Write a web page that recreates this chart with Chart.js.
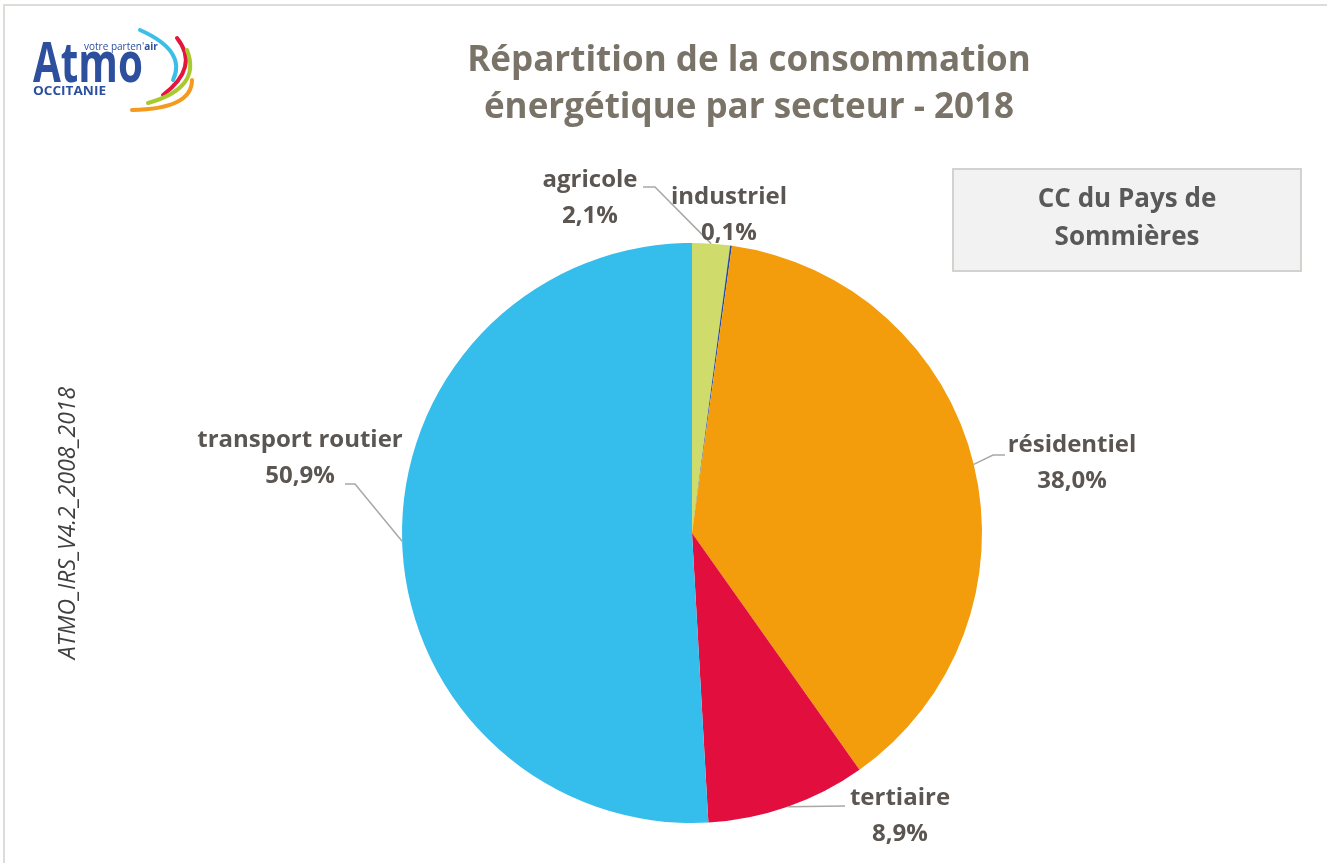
<!DOCTYPE html>
<html>
<head>
<meta charset="utf-8">
<script src="https://cdn.jsdelivr.net/npm/chart.js@4.4.1/dist/chart.umd.min.js"></script>
<style>
  html, body { margin: 0; padding: 0; background: #fff; }
  #wrap { position: relative; width: 1327px; height: 863px; }
</style>
</head>
<body>
<div id="wrap"><canvas id="repartition"></canvas></div>
<script>
// donnees
const secteurs = ["agricole", "industriel", "résidentiel", "tertiaire", "transport routier"];
const parts = [2.1, 0.1, 38.0, 8.9, 50.9];
const couleurs = ["#cfdc6c", "#2b4a9c", "#f39c0c", "#e10e3e", "#35bdeb"];
const titre = ["Répartition de la consommation", "énergétique par secteur - 2018"];
const territoire = ["CC du Pays de", "Sommières"];
const source = "ATMO_IRS_V4.2_2008_2018";

const FONT = "'Open Sans', 'Noto Sans', sans-serif";
const labelColor = "#5b5651";
const leaderColor = "#a9a8a4";

// position des etiquettes (centre du texte) + coude de la ligne de rappel
const etiquettes = [
  { x: 590, y: 180, coude: [[655, 187], [643, 187]] },
  { x: 729, y: 197, coude: null },
  { x: 1072, y: 445, coude: [[993, 455], [1005, 455]] },
  { x: 900, y: 798, coude: [[845, 806]] },
  { x: 300, y: 440, coude: [[355, 484], [345, 484]] }
];

function formatPct(v) {
  return v.toFixed(1).replace(".", ",") + "%";
}

function drawLogo(ctx) {
  ctx.save();
  // arcs de couleur
  const arcs = [
    ["#3bbfe6", [140, 30], [187, 51], [173, 80]],
    ["#e3173e", [177, 38], [200, 67], [163, 95]],
    ["#a9c92f", [187, 50], [202, 88], [148, 103]],
    ["#f39a1f", [192, 80], [192, 109], [132, 110]]
  ];
  ctx.lineWidth = 4;
  ctx.lineCap = "round";
  arcs.forEach(a => {
    ctx.strokeStyle = a[0];
    ctx.beginPath();
    ctx.moveTo(a[1][0], a[1][1]);
    ctx.quadraticCurveTo(a[2][0], a[2][1], a[3][0], a[3][1]);
    ctx.stroke();
  });
  ctx.fillStyle = "#2c4f9e";
  ctx.textBaseline = "alphabetic";
  ctx.textAlign = "left";
  ctx.font = "bold 56px " + FONT;
  let w = ctx.measureText("Atmo").width;
  ctx.save();
  ctx.translate(33, 82);
  ctx.scale(110 / w, 1);
  ctx.fillText("Atmo", 0, 0);
  ctx.restore();
  ctx.font = "bold 12px " + FONT;
  w = ctx.measureText("OCCITANIE").width;
  ctx.save();
  ctx.translate(33, 95);
  ctx.scale(73 / w, 1);
  ctx.fillText("OCCITANIE", 0, 0);
  ctx.restore();
  ctx.font = "10px " + FONT;
  ctx.fillText("votre parten'", 84, 50);
  const w2 = ctx.measureText("votre parten'").width;
  ctx.font = "bold 10px " + FONT;
  ctx.fillText("air", 84 + w2, 50);
  ctx.restore();
}

const decorPlugin = {
  id: "decor",
  beforeDraw(chart) {
    const ctx = chart.ctx;
    ctx.save();
    ctx.fillStyle = "#ffffff";
    ctx.fillRect(0, 0, chart.width, chart.height);
    // cadre
    ctx.strokeStyle = "#dcdcd8";
    ctx.lineWidth = 2;
    ctx.beginPath();
    ctx.moveTo(4, chart.height);
    ctx.lineTo(4, 5);
    ctx.lineTo(chart.width, 5);
    ctx.stroke();
    ctx.restore();
  },
  afterDraw(chart) {
    const ctx = chart.ctx;
    ctx.save();
    drawLogo(ctx);

    // titre
    ctx.fillStyle = "#7a7368";
    ctx.font = "bold 35px " + FONT;
    ctx.textAlign = "center";
    ctx.textBaseline = "middle";
    ctx.fillText(titre[0], 749, 61);
    ctx.fillText(titre[1], 749, 108);

    // encadre du territoire
    ctx.fillStyle = "#f2f2f2";
    ctx.fillRect(953, 169, 348, 102);
    ctx.strokeStyle = "#d3d2ce";
    ctx.lineWidth = 2;
    ctx.strokeRect(953, 169, 348, 102);
    ctx.fillStyle = "#595959";
    ctx.font = "bold 26px " + FONT;
    ctx.fillText(territoire[0], 1127, 200);
    ctx.fillText(territoire[1], 1127, 238);

    // source verticale
    ctx.save();
    ctx.translate(68, 523);
    ctx.rotate(-Math.PI / 2);
    ctx.fillStyle = "#404040";
    ctx.font = "italic 23px " + FONT;
    ctx.fillText(source, 0, 0);
    ctx.restore();

    // etiquettes + lignes de rappel
    const meta = chart.getDatasetMeta(0);
    meta.data.forEach((arc, i) => {
      const p = arc.getProps(["x", "y", "startAngle", "endAngle", "outerRadius"], true);
      const mid = (p.startAngle + p.endAngle) / 2;
      const ax = p.x + Math.cos(mid) * p.outerRadius;
      const ay = p.y + Math.sin(mid) * p.outerRadius;
      const e = etiquettes[i];
      if (e.coude) {
        ctx.strokeStyle = leaderColor;
        ctx.lineWidth = 1.5;
        ctx.beginPath();
        ctx.moveTo(ax, ay);
        e.coude.forEach(c => ctx.lineTo(c[0], c[1]));
        ctx.stroke();
      }
      ctx.fillStyle = labelColor;
      ctx.font = "bold 24px " + FONT;
      ctx.textAlign = "center";
      ctx.textBaseline = "middle";
      ctx.fillText(secteurs[i], e.x, e.y);
      ctx.fillText(formatPct(parts[i]), e.x, e.y + 36);
    });
    ctx.restore();
  }
};

new Chart(document.getElementById("repartition"), {
  type: "pie",
  data: {
    labels: secteurs,
    datasets: [{
      data: parts,
      backgroundColor: couleurs,
      borderWidth: 0
    }]
  },
  options: {
    responsive: true,
    maintainAspectRatio: false,
    animation: false,
    layout: {
      padding: { top: 243, bottom: 40, left: 402, right: 345 }
    },
    plugins: {
      legend: { display: false },
      tooltip: { enabled: false },
      title: { display: false }
    }
  },
  plugins: [decorPlugin]
});
</script>
</body>
</html>
